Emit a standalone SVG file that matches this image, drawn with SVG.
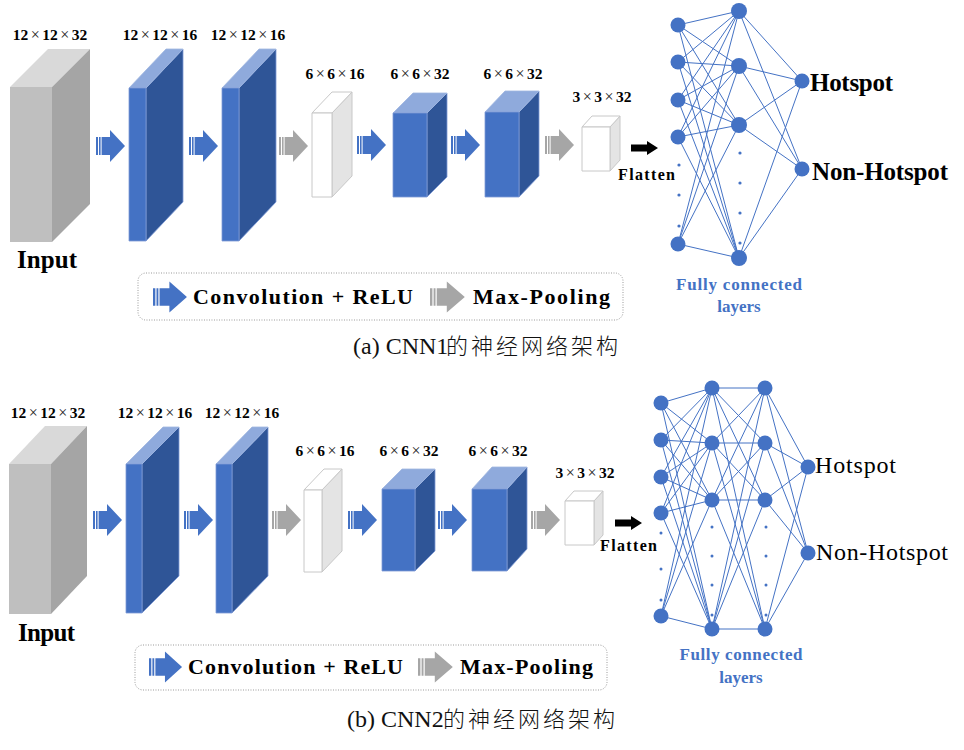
<svg xmlns="http://www.w3.org/2000/svg" xmlns:xlink="http://www.w3.org/1999/xlink" width="964" height="750" viewBox="0 0 964 750">
<style>
.lbl{font-family:"Liberation Serif","Times New Roman",serif;font-weight:bold;font-size:15.5px;fill:#000;text-anchor:middle}
.m{font-weight:normal;font-size:16px;fill:#222}
.big{font-family:"Liberation Serif","Times New Roman",serif;font-weight:bold;font-size:25px;fill:#000}
.bigr{font-family:"Liberation Serif","Times New Roman",serif;font-size:24px;fill:#000}
.leg{font-family:"Liberation Serif","Times New Roman",serif;font-weight:bold;font-size:22px;fill:#000}
.fl{font-family:"Liberation Serif","Times New Roman",serif;font-weight:bold;font-size:16px;fill:#000}
.fc{font-family:"Liberation Serif","Times New Roman",serif;font-weight:bold;font-size:17px;fill:#4472C4;text-anchor:middle}
.cap{font-family:"Liberation Serif","Times New Roman","Noto Sans CJK SC",serif;font-size:24px;fill:#111}
.capc{font-family:"Noto Sans CJK SC",sans-serif;font-weight:300;font-size:22px}
.gf{fill:#BFBFBF}.gt{fill:#D9D9D9}.gs{fill:#A5A5A5}
.bf{fill:#4472C4;stroke:#7F9BD6;stroke-width:0.8}.bt{fill:#8FAADC;stroke:#9FB6E0;stroke-width:0.8}.bs{fill:#2F5597;stroke:#7F9BD6;stroke-width:0.8}
.wf{fill:#FFFFFF;stroke:#C8C8C8;stroke-width:1}.wt{fill:#FFFFFF;stroke:#C8C8C8;stroke-width:1}.ws{fill:#E4E4E4;stroke:#C8C8C8;stroke-width:1}
.conn{fill:none;stroke:#4472C4;stroke-width:1}
.nd{fill:#4472C4}
.legbox{fill:none;stroke:#9A9A9A;stroke-width:1;stroke-dasharray:1 1.5}
</style>
<defs>
<g id="sa"><path d="M0,-9h2v18h-2z M3,-9h1.6v18h-1.6z M5.6,-9H14V-16L29,0L14,16V9H5.6z"/></g>
<path id="fa" d="M0,-3.5H16V-7L27,0L16,7V3.5H0z" fill="#000"/>
</defs>

<!-- ============ (a) CNN1 ============ -->
<g id="a-input">
<polygon class="gf" points="10,87 52,87 52,242 10,242"/>
<polygon class="gt" points="10,87 48,49 90,49 52,87"/>
<polygon class="gs" points="52,87 90,49 90,204 52,242"/>
<text class="lbl" x="50" y="40">12<tspan class="m" dx="2.5">×</tspan><tspan dx="2.5">12</tspan><tspan class="m" dx="2.5">×</tspan><tspan dx="2.5">32</tspan></text>
<text class="big" x="17" y="268" textLength="60">Input</text>
</g>
<g id="a-conv1">
<polygon class="bs" points="146,88 183,49 183,202 146,241"/>
<polygon class="bt" points="129,88 166,49 183,49 146,88"/>
<polygon class="bf" points="129,88 146,88 146,241 129,241"/>
<text class="lbl" x="160" y="40">12<tspan class="m" dx="2.5">×</tspan><tspan dx="2.5">12</tspan><tspan class="m" dx="2.5">×</tspan><tspan dx="2.5">16</tspan></text>
</g>
<g id="a-conv2">
<polygon class="bs" points="239,88 276,49 276,202 239,241"/>
<polygon class="bt" points="222,88 259,49 276,49 239,88"/>
<polygon class="bf" points="222,88 239,88 239,241 222,241"/>
<text class="lbl" x="248" y="40">12<tspan class="m" dx="2.5">×</tspan><tspan dx="2.5">12</tspan><tspan class="m" dx="2.5">×</tspan><tspan dx="2.5">16</tspan></text>
</g>
<g id="a-pool1">
<polygon class="ws" points="332,113 352,92 352,176 332,197"/>
<polygon class="wt" points="312,113 332,92 352,92 332,113"/>
<polygon class="wf" points="312,113 332,113 332,197 312,197"/>
<text class="lbl" x="335" y="79">6<tspan class="m" dx="2.5">×</tspan><tspan dx="2.5">6</tspan><tspan class="m" dx="2.5">×</tspan><tspan dx="2.5">16</tspan></text>
</g>
<g id="a-conv3">
<polygon class="bs" points="427,113 447,93 447,177 427,197"/>
<polygon class="bt" points="393,113 413,93 447,93 427,113"/>
<polygon class="bf" points="393,113 427,113 427,197 393,197"/>
<text class="lbl" x="420" y="79">6<tspan class="m" dx="2.5">×</tspan><tspan dx="2.5">6</tspan><tspan class="m" dx="2.5">×</tspan><tspan dx="2.5">32</tspan></text>
</g>
<g id="a-conv4">
<polygon class="bs" points="519,112 539,91 539,176 519,197"/>
<polygon class="bt" points="485,112 505,91 539,91 519,112"/>
<polygon class="bf" points="485,112 519,112 519,197 485,197"/>
<text class="lbl" x="513" y="79">6<tspan class="m" dx="2.5">×</tspan><tspan dx="2.5">6</tspan><tspan class="m" dx="2.5">×</tspan><tspan dx="2.5">32</tspan></text>
</g>
<g id="a-pool2">
<polygon class="ws" points="610,127 620,116 620,160 610,171"/>
<polygon class="wt" points="582,127 592,116 620,116 610,127"/>
<polygon class="wf" points="582,127 610,127 610,171 582,171"/>
<text class="lbl" x="602" y="102">3<tspan class="m" dx="2.5">×</tspan><tspan dx="2.5">3</tspan><tspan class="m" dx="2.5">×</tspan><tspan dx="2.5">32</tspan></text>
</g>
<g id="a-flatten">
<text class="fl" x="618" y="180" textLength="57">Flatten</text>
</g>
<g id="a-legend">
<rect class="legbox" x="138" y="273" width="485" height="47" rx="8"/>
<use xlink:href="#sa" transform="translate(153,297) scale(1.17,0.97)" fill="#4472C4"/>
<text class="leg" x="193" y="304" textLength="220">Convolution + ReLU</text>
<use xlink:href="#sa" transform="translate(430,297) scale(1.2,0.97)" fill="#A6A6A6"/>
<text class="leg" x="473" y="304" textLength="137">Max-Pooling</text>
</g>
<g id="a-caption">
<text class="cap" x="353" y="354">(a) CNN1<tspan class="capc" x="446 471 496 521 546 571 596">的神经网络架构</tspan></text>
</g>

<g id="a-connectors">
<use xlink:href="#sa" transform="translate(96,146)" fill="#4472C4"/>
<use xlink:href="#sa" transform="translate(189,146)" fill="#4472C4"/>
<use xlink:href="#sa" transform="translate(279,146)" fill="#A6A6A6"/>
<use xlink:href="#sa" transform="translate(357,145)" fill="#4472C4"/>
<use xlink:href="#sa" transform="translate(451,145)" fill="#4472C4"/>
<use xlink:href="#sa" transform="translate(545,145)" fill="#A6A6A6"/>
<use xlink:href="#fa" transform="translate(631,148)"/>
<path class="conn" d="M678,25L739,11M678,25L739,66M678,25L739,125M678,25L739,258
M678,62L739,11M678,62L739,66M678,62L739,125M678,62L739,258
M678,100L739,11M678,100L739,66M678,100L739,125M678,100L739,258
M678,137L739,11M678,137L739,66M678,137L739,125M678,137L739,258
M678,244L739,11M678,244L739,66M678,244L739,125M678,244L739,258"/>
<path class="conn" d="M739,11L802,81M739,11L802,169M739,66L802,81M739,66L802,169
M739,125L802,81M739,125L802,169M739,258L802,81M739,258L802,169"/>
</g>

<g id="a-fc">
<circle class="nd" cx="678" cy="25" r="7.5"/>
<circle class="nd" cx="678" cy="62" r="7.5"/>
<circle class="nd" cx="678" cy="100" r="7.5"/>
<circle class="nd" cx="678" cy="137" r="7.5"/>
<circle class="nd" cx="678" cy="244" r="7.5"/>
<circle class="nd" cx="679" cy="165" r="1.6"/>
<circle class="nd" cx="679" cy="195" r="1.6"/>
<circle class="nd" cx="679" cy="226" r="1.6"/>
<circle class="nd" cx="739" cy="11" r="8"/>
<circle class="nd" cx="739" cy="66" r="8"/>
<circle class="nd" cx="739" cy="125" r="8"/>
<circle class="nd" cx="739" cy="258" r="8"/>
<circle class="nd" cx="740" cy="153" r="1.6"/>
<circle class="nd" cx="740" cy="183" r="1.6"/>
<circle class="nd" cx="740" cy="213" r="1.6"/>
<circle class="nd" cx="740" cy="243" r="1.6"/>
<text class="fc" x="739" y="290" textLength="126">Fully connected</text>
<text class="fc" x="739" y="312">layers</text>
</g>
<g id="a-out">
<circle class="nd" cx="802" cy="81" r="7.5"/>
<circle class="nd" cx="802" cy="169" r="7.5"/>
<text class="big" x="810" y="91" textLength="83">Hotspot</text>
<text class="big" x="812" y="180" textLength="136">Non-Hotspot</text>
</g>

<!-- ============ (b) CNN2 ============ -->
<g id="b-input">
<polygon class="gf" points="9,464 51,464 51,614 9,614"/>
<polygon class="gt" points="9,464 45,426 87,426 51,464"/>
<polygon class="gs" points="51,464 87,426 87,576 51,614"/>
<text class="lbl" x="48" y="418">12<tspan class="m" dx="2.5">×</tspan><tspan dx="2.5">12</tspan><tspan class="m" dx="2.5">×</tspan><tspan dx="2.5">32</tspan></text>
<text class="big" x="18" y="641" textLength="57">Input</text>
</g>
<g id="b-conv1">
<polygon class="bs" points="142,464 179,427 179,576 142,613"/>
<polygon class="bt" points="126,464 163,427 179,427 142,464"/>
<polygon class="bf" points="126,464 142,464 142,613 126,613"/>
<text class="lbl" x="155" y="418">12<tspan class="m" dx="2.5">×</tspan><tspan dx="2.5">12</tspan><tspan class="m" dx="2.5">×</tspan><tspan dx="2.5">16</tspan></text>
</g>
<g id="b-conv2">
<polygon class="bs" points="232,464 268,427 268,576 232,613"/>
<polygon class="bt" points="216,464 252,427 268,427 232,464"/>
<polygon class="bf" points="216,464 232,464 232,613 216,613"/>
<text class="lbl" x="242" y="418">12<tspan class="m" dx="2.5">×</tspan><tspan dx="2.5">12</tspan><tspan class="m" dx="2.5">×</tspan><tspan dx="2.5">16</tspan></text>
</g>
<g id="b-pool1">
<polygon class="ws" points="322,490 342,469 342,551 322,572"/>
<polygon class="wt" points="304,490 324,469 342,469 322,490"/>
<polygon class="wf" points="304,490 322,490 322,572 304,572"/>
<text class="lbl" x="325" y="456">6<tspan class="m" dx="2.5">×</tspan><tspan dx="2.5">6</tspan><tspan class="m" dx="2.5">×</tspan><tspan dx="2.5">16</tspan></text>
</g>
<g id="b-conv3">
<polygon class="bs" points="415,489 435,469 435,551 415,571"/>
<polygon class="bt" points="382,489 402,469 435,469 415,489"/>
<polygon class="bf" points="382,489 415,489 415,571 382,571"/>
<text class="lbl" x="409" y="456">6<tspan class="m" dx="2.5">×</tspan><tspan dx="2.5">6</tspan><tspan class="m" dx="2.5">×</tspan><tspan dx="2.5">32</tspan></text>
</g>
<g id="b-conv4">
<polygon class="bs" points="507,489 527,467 527,549 507,571"/>
<polygon class="bt" points="472,489 492,467 527,467 507,489"/>
<polygon class="bf" points="472,489 507,489 507,571 472,571"/>
<text class="lbl" x="498" y="456">6<tspan class="m" dx="2.5">×</tspan><tspan dx="2.5">6</tspan><tspan class="m" dx="2.5">×</tspan><tspan dx="2.5">32</tspan></text>
</g>
<g id="b-pool2">
<polygon class="ws" points="594,501 603,491 603,535 594,545"/>
<polygon class="wt" points="565,501 574,491 603,491 594,501"/>
<polygon class="wf" points="565,501 594,501 594,545 565,545"/>
<text class="lbl" x="585" y="478">3<tspan class="m" dx="2.5">×</tspan><tspan dx="2.5">3</tspan><tspan class="m" dx="2.5">×</tspan><tspan dx="2.5">32</tspan></text>
</g>
<g id="b-flatten">
<text class="fl" x="600" y="551" textLength="57">Flatten</text>
</g>
<g id="b-legend">
<rect class="legbox" x="135" y="645" width="472" height="45" rx="8"/>
<use xlink:href="#sa" transform="translate(149,667) scale(1.14,0.97)" fill="#4472C4"/>
<text class="leg" x="188" y="674" textLength="215">Convolution + ReLU</text>
<use xlink:href="#sa" transform="translate(418,667) scale(1.2,0.97)" fill="#A6A6A6"/>
<text class="leg" x="460" y="674" textLength="133">Max-Pooling</text>
</g>
<g id="b-caption">
<text class="cap" x="347" y="727">(b) CNN2<tspan class="capc" x="443 468 493 518 543 568 593">的神经网络架构</tspan></text>
</g>

<g id="b-connectors">
<use xlink:href="#sa" transform="translate(93,520)" fill="#4472C4"/>
<use xlink:href="#sa" transform="translate(184,520)" fill="#4472C4"/>
<use xlink:href="#sa" transform="translate(272,520)" fill="#A6A6A6"/>
<use xlink:href="#sa" transform="translate(348,520)" fill="#4472C4"/>
<use xlink:href="#sa" transform="translate(438,520)" fill="#4472C4"/>
<use xlink:href="#sa" transform="translate(531,520)" fill="#A6A6A6"/>
<use xlink:href="#fa" transform="translate(615,523)"/>
<path class="conn" d="M661,403L712,388M661,403L712,443M661,403L712,500M661,403L712,629
M661,440L712,388M661,440L712,443M661,440L712,500M661,440L712,629
M661,477L712,388M661,477L712,443M661,477L712,500M661,477L712,629
M661,513L712,388M661,513L712,443M661,513L712,500M661,513L712,629
M661,616L712,388M661,616L712,443M661,616L712,500M661,616L712,629"/>
<path class="conn" d="M712,388L765,388M712,388L765,443M712,388L765,500M712,388L765,629
M712,443L765,388M712,443L765,443M712,443L765,500M712,443L765,629
M712,500L765,388M712,500L765,443M712,500L765,500M712,500L765,629
M712,629L765,388M712,629L765,443M712,629L765,500M712,629L765,629"/>
<path class="conn" d="M765,388L808,467M765,388L808,553M765,443L808,467M765,443L808,553
M765,500L808,467M765,500L808,553M765,629L808,467M765,629L808,553"/>
</g>

<g id="b-fc">
<circle class="nd" cx="661" cy="403" r="7.5"/>
<circle class="nd" cx="661" cy="440" r="7.5"/>
<circle class="nd" cx="661" cy="477" r="7.5"/>
<circle class="nd" cx="661" cy="513" r="7.5"/>
<circle class="nd" cx="661" cy="616" r="7.5"/>
<circle class="nd" cx="661" cy="533" r="1.5"/>
<circle class="nd" cx="661" cy="569" r="1.5"/>
<circle class="nd" cx="661" cy="600" r="1.5"/>
<circle class="nd" cx="712" cy="388" r="7.5"/>
<circle class="nd" cx="712" cy="443" r="7.5"/>
<circle class="nd" cx="712" cy="500" r="7.5"/>
<circle class="nd" cx="712" cy="629" r="7.5"/>
<circle class="nd" cx="712" cy="527" r="1.5"/>
<circle class="nd" cx="712" cy="556" r="1.5"/>
<circle class="nd" cx="712" cy="585" r="1.5"/>
<circle class="nd" cx="712" cy="615" r="1.5"/>
<circle class="nd" cx="765" cy="388" r="7.5"/>
<circle class="nd" cx="765" cy="443" r="7.5"/>
<circle class="nd" cx="765" cy="500" r="7.5"/>
<circle class="nd" cx="765" cy="629" r="7.5"/>
<circle class="nd" cx="766" cy="527" r="1.5"/>
<circle class="nd" cx="766" cy="556" r="1.5"/>
<circle class="nd" cx="766" cy="585" r="1.5"/>
<circle class="nd" cx="766" cy="615" r="1.5"/>
<text class="fc" x="741" y="660" textLength="123">Fully connected</text>
<text class="fc" x="741" y="683">layers</text>
</g>
<g id="b-out">
<circle class="nd" cx="808" cy="467" r="7.5"/>
<circle class="nd" cx="808" cy="553" r="7.5"/>
<text class="bigr" x="815" y="473" textLength="81">Hotspot</text>
<text class="bigr" x="816" y="560" textLength="132">Non-Hotspot</text>
</g>
</svg>
